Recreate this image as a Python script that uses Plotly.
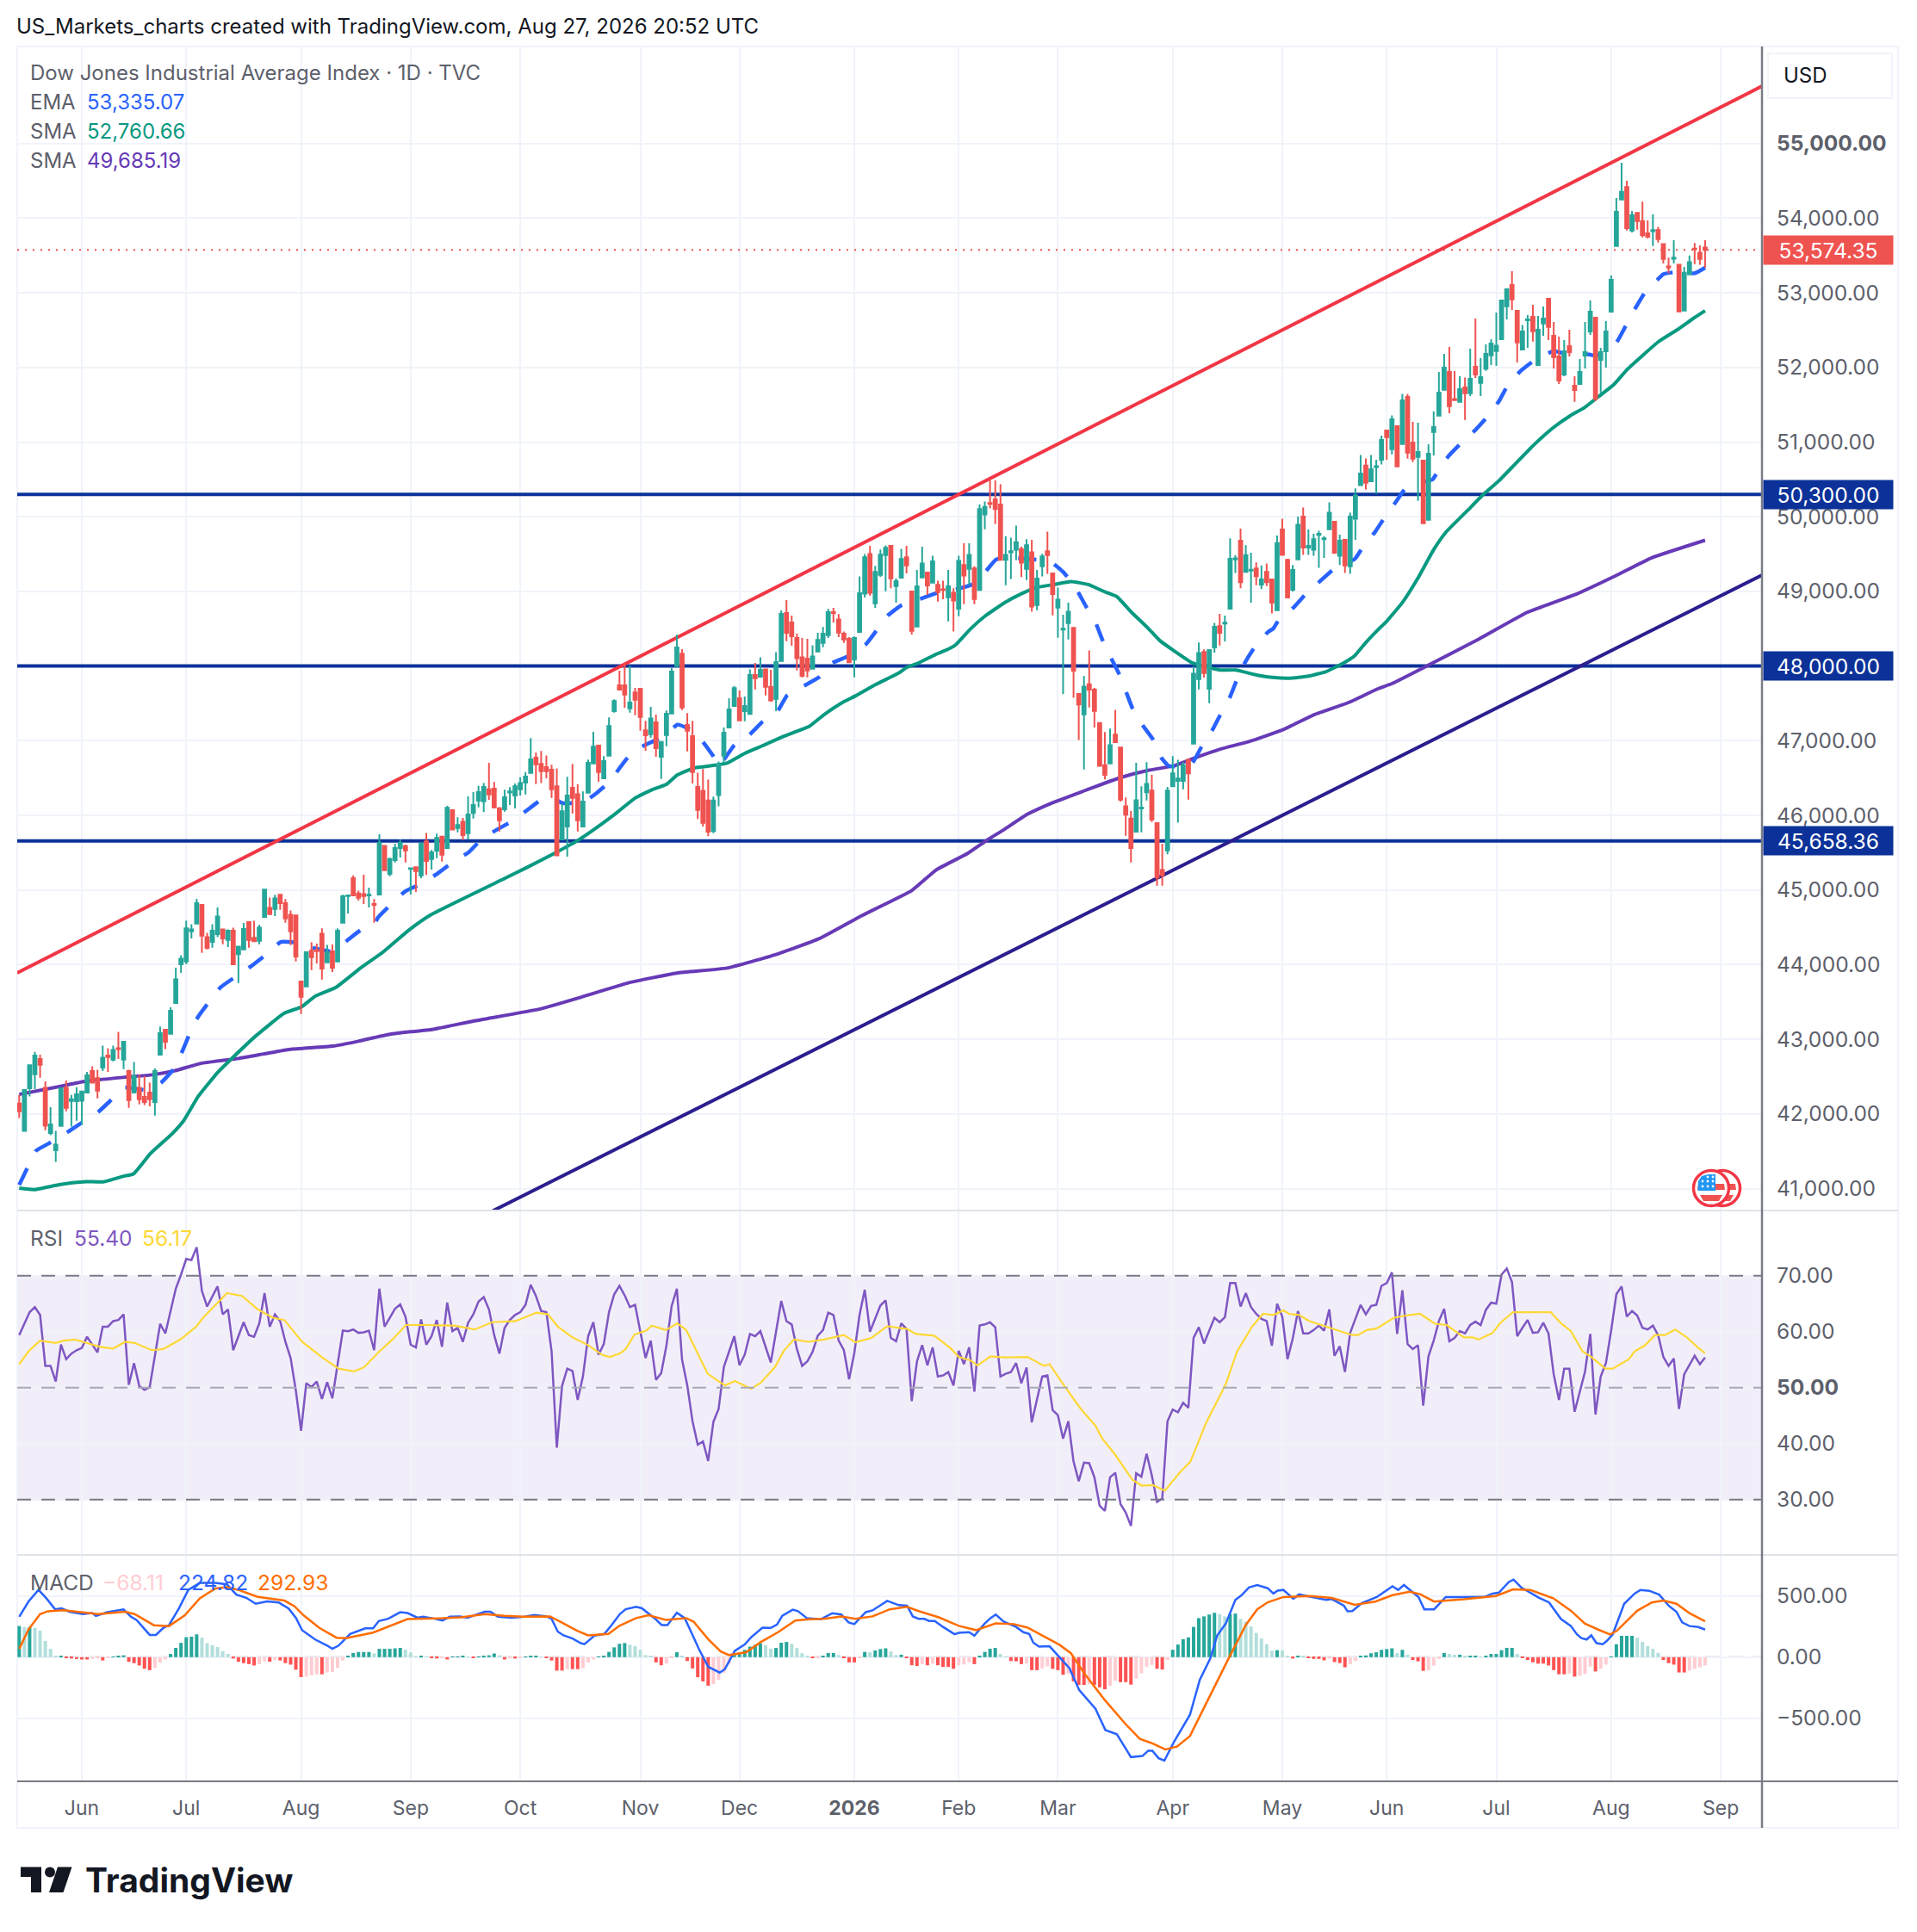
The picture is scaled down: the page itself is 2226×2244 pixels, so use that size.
import plotly.graph_objects as go

W, H = 2226, 2244

tick_idx = [12, 32, 54, 75, 96, 119, 138, 160, 180, 199, 221, 242, 262, 283, 305, 326]
tick_txt = ["Jun", "Jul", "Aug", "Sep", "Oct", "Nov", "Dec", "<b>2026</b>", "Feb", "Mar", "Apr", "May", "Jun", "Jul", "Aug", "Sep"]

opens = [
42140,41774,42343,42531,42735,42351,41743,41512,41839,42351,
42174,42170,42178,42285,42574,42478,42620,42781,42727,42881,
42727,42574,42285,42351,42228,42285,42158,42793,43127,43074,
43485,44004,44042,44446,44550,44800,44369,44304,44408,44473,
44331,44454,44139,44204,44569,44358,44319,44638,44761,44746,
44935,44823,44669,44658,43773,43708,44185,44196,44415,44031,
44177,44042,44562,44919,45158,44954,44946,44927,44812,44938,
45592,45215,45400,45561,45588,45281,45304,45196,45650,45415,
45523,45715,45562,46069,45831,45915,45761,46031,46196,46188,
46350,46357,46096,46081,46307,46265,46350,46438,46569,46773,
46688,46646,46611,46388,45677,45850,46369,46284,45850,46304,
46696,46934,46496,46800,47396,47742,47742,47434,47646,47696,
47138,47088,47246,46784,47076,47365,47999,48165,47211,47061,
46380,46330,46200,45790,46270,46800,47176,47464,47568,47395,
47357,47879,47856,47956,47722,47560,48068,48710,48583,48375,
48118,48099,47964,48195,48310,48414,48722,48625,48433,48364,
48087,48456,48971,49502,48841,49221,49487,49610,49071,49183,
49456,48998,48529,49187,49252,49118,49087,49029,48921,48983,
48768,49355,49302,49307,49019,50031,50185,50233,50164,49424,
49525,49557,49566,49302,49525,48817,49335,49537,49242,48784,
48489,48574,48513,47627,47352,47757,47684,47238,46672,46696,
47081,46907,46122,45956,45782,46093,46308,46332,45895,45268,
45531,46389,46461,46461,46745,46959,47825,48190,47696,48250,
48534,48570,48768,49428,49679,49262,49278,49307,49092,49262,
49161,48748,49829,49424,49023,49428,50003,49586,49557,49756,
49699,49833,49934,49477,49691,49335,49974,50424,50686,50474,
50667,50763,51155,50905,51213,50974,51605,50994,50801,50751,
49959,51136,51355,51701,51939,51578,51540,51732,51655,52009,
51793,51982,52162,52220,52378,52820,53104,52758,52239,52631,
52678,52032,52589,52920,52424,52147,51905,52285,51755,51778,
52159,52481,52666,52101,52216,52747,53627,54250,54416,53835,
54070,53962,53797,53827,53839,53654,53354,53458,53377,52762,
53247,53593,53539,53608]
highs = [
42255,42331,42658,42831,42793,42435,42089,41774,42343,42447,
42255,42358,42310,42562,42639,42593,42916,42881,42916,43100,
42966,42593,42697,42524,42505,42420,42608,43170,43127,43427,
43958,44127,44589,44542,44881,44800,44427,44542,44765,44473,
44473,44496,44254,44558,44569,44588,44531,45004,44900,44935,
44935,44877,44727,44658,43773,44177,44300,44281,44485,44265,
44269,44485,44935,44935,45196,44992,45204,45031,44877,45746,
45592,45434,45619,45677,45607,45292,45304,45619,45765,45535,
45754,45715,46127,46069,45973,45965,46254,46311,46396,46434,
46703,46446,46111,46342,46377,46427,46511,46580,47034,46842,
46861,46803,46677,46630,46157,46515,46688,46415,46319,46746,
47119,46934,46792,47311,47553,47938,48034,48003,47707,47696,
47265,47453,47350,46992,47403,47972,48418,48226,47369,47265,
46570,46620,46480,46250,46720,47176,47568,47733,47672,47591,
47956,48041,48118,47956,47949,48187,48745,48883,48675,48437,
48375,48364,48279,48445,48522,48764,48779,48695,48464,48387,
48395,49202,49502,49610,49341,49560,49617,49610,49175,49571,
49610,49002,49287,49598,49252,49479,49144,49144,49287,49041,
49477,49646,49646,49335,50164,50205,50508,50488,50436,49740,
49719,49881,49598,49699,49691,49286,49505,49800,49242,49052,
48687,48849,48513,47627,47866,48210,47708,47238,47117,47162,
47412,46907,46239,46057,46704,46389,46712,46542,45895,45620,
46381,46793,46745,46712,46745,47999,48315,48222,48214,48578,
48700,48675,49711,49485,49841,49618,49517,49387,49347,49375,
49161,49748,49974,49436,49355,50003,50124,49829,49772,49812,
49740,50193,49934,49760,49691,50055,50379,50828,50782,50828,
50763,51086,51155,51359,51213,51647,51647,51270,51259,50759,
50970,51413,51939,52182,52274,51951,51882,51866,52251,52655,
52124,52309,52378,52735,52897,53062,53289,52758,52570,52701,
52839,52689,52816,52920,52608,52412,52366,52505,51882,52112,
52608,52897,52666,52262,52620,53231,54269,54742,54500,54096,
54077,54220,53970,54050,53885,53654,53470,53704,53377,53347,
53500,53666,53635,53704]
lows = [
41947,41774,42235,42331,42485,41782,41716,41359,41839,42035,
41832,41909,41851,42285,42420,42208,42574,42562,42704,42735,
42601,42082,42285,42128,42120,42101,41978,42793,42870,43074,
43485,43889,44004,44350,44550,44158,44204,44227,44369,44273,
44235,43993,43754,44196,44227,44312,44273,44631,44677,44650,
44735,44561,44262,44042,43339,43708,43927,44016,43800,44031,
43900,44042,44562,44685,44919,44858,44811,44765,44562,44938,
45265,45184,45369,45434,45369,44938,44973,45158,45204,45273,
45427,45381,45562,45804,45773,45669,45677,45958,46108,46042,
46207,46092,45785,46050,46138,46092,46265,46280,46569,46419,
46434,46496,46234,45465,45677,45446,46023,45785,45850,46304,
46684,46450,46484,46800,47376,47684,47442,47376,47342,47134,
46865,47042,46784,46488,46926,47365,47999,47411,46857,46427,
45950,45850,45720,45760,46120,46700,47176,47464,47272,47260,
47349,47687,47856,47606,47522,47395,48068,48333,48272,47941,
47849,47849,47964,48195,48252,48375,48583,48387,48310,48041,
47849,48445,48918,48941,48779,49194,49002,49041,48848,49183,
49241,48422,48529,49187,48952,49118,48864,48895,48599,48464,
48667,48829,49084,48829,49019,49833,50112,49901,49424,49084,
49165,49416,49193,49153,48728,48748,49201,49234,48679,48380,
47623,48355,47574,47008,46615,47445,47178,46664,46482,46696,
46980,46186,45725,45369,45782,45773,46198,45911,45057,45057,
45478,46389,45903,46348,46211,46959,47688,47846,47502,48181,
48275,48331,48768,49246,49043,49262,48849,49084,49031,49072,
48704,48748,49489,48906,48999,49428,49489,49489,49477,49315,
49448,49833,49505,49355,49246,49234,49691,50424,50367,50474,
50309,50701,50763,50836,50674,50974,50778,50732,50213,49913,
49959,50820,51355,51701,51386,51551,51540,51297,51616,51859,
51616,51955,52032,52020,52378,52643,52770,52066,52239,52262,
52347,52032,52424,52366,51985,51778,51882,52147,51540,51778,
51985,52435,51547,51651,51997,52747,53627,54250,53835,53808,
53846,53743,53731,53627,53673,53393,53262,53393,52751,52762,
53239,53385,53377,53335]
closes = [
42035,42320,42651,42781,42658,41843,41859,41589,42343,42082,
42197,42262,42301,42516,42420,42312,42754,42762,42858,42870,
42966,42185,42504,42197,42158,42197,42574,43081,42966,43381,
43804,44081,44485,44473,44823,44389,44223,44454,44646,44350,
44454,44004,44242,44477,44331,44312,44496,45004,44677,44888,
44823,44619,44446,44108,43570,44166,44100,44181,43946,44166,
43958,44454,44915,44927,44927,44896,44919,44935,44800,45630,
45265,45415,45561,45630,45531,45292,45254,45619,45388,45504,
45696,45473,46100,45811,45869,45735,46011,46138,46311,46381,
46280,46108,45935,46242,46319,46388,46434,46519,46750,46684,
46592,46592,46350,45465,46054,46265,46234,45935,46184,46703,
46919,46580,46727,47196,47530,47684,47619,47511,47549,47319,
47073,47299,46900,46984,47361,47926,48249,47446,47134,46580,
46073,45900,45780,46200,46680,47107,47418,47703,47272,47464,
47879,47837,47949,47722,47541,48052,48698,48445,48399,48106,
47868,47941,48129,48349,48433,48722,48710,48449,48356,48049,
48375,48975,49456,48983,49260,49491,49583,49175,49137,49433,
49348,48472,49068,49375,49079,49402,48991,49018,49068,48879,
49408,49213,49489,48898,50104,50132,50173,50104,49424,49489,
49537,49659,49384,49618,48797,49173,49468,49485,48963,48890,
48501,48728,47939,47485,47724,47684,47400,46664,46542,46939,
46980,46211,46008,45563,46202,46105,46421,45944,45166,45199,
46332,46563,46494,46672,46563,47898,48173,47906,48214,48525,
48445,48582,49436,49444,49124,49485,49290,49205,49161,49124,
48849,49647,49489,48918,49286,49893,49586,49610,49699,49772,
49711,50055,49517,49679,49347,50003,50286,50578,50455,50636,
50678,51028,51067,51305,50674,51559,50859,50778,50867,49913,
50843,51201,51663,51997,51482,51563,51709,51655,51847,51905,
51870,52182,52320,52293,52897,53047,52912,52335,52481,52643,
52485,52505,52655,52543,52139,51824,52216,52205,51697,51939,
52205,52747,51582,52205,52481,53174,54085,54354,53866,54039,
53962,53770,53750,53839,53720,53454,53339,53470,52751,53270,
53412,53585,53454,53574.35]

ema_idx = [0,1.6,3.2,6.3,9,12.3,15.1,17.9,20.2,24.6,27.2,29.6,31.2,32.7,34.2,36.5,38.6,41.7,44.4,47.5,50.1,53.5,56.8,60.1,63.1,66,68.1,68.8,71.4,74,77.2,78.8,80.2,83.2,86.1,88.7,91.6,95,97.8,100.8,102.2,104,108,110.5,113.2,115.2,117.6,120.6,123.9,126.1,129.4,130.8,133,134,137,139.9,142.4,145.4,147.1,150.3,153.4,155.8,158.6,162.2,164.2,166.4,169.1,172.9,175.6,179.5,182.5,185,187.2,191,197.6,200.1,202.6,204.3,206.2,207.5,209.1,210.7,212,213.3,215.2,217.3,218.8,220.2,222.4,224.6,226.5,228.5,230.1,231.9,233.3,234.8,236.7,239.2,240.3,241.4,244.2,246.6,249.3,251.8,255.9,257.4,259.8,261.7,263.9,265.8,270.8,271.7,273.8,276.2,279,281.3,283.5,285.2,287.7,290.5,294,296.4,300.8,302.1,306,307.8,309.6,311.5,314,315,317.2,321,323]
ema_val = [41050,41282,41505,41628,41743,41897,42024,42205,42351,42320,42420,42601,42831,43081,43293,43512,43697,43850,43977,44146,44304,44292,44216,44177,44339,44492,44550,44638,44819,44985,45088,45160,45223,45381,45504,45688,45811,45946,46096,46246,46234,46165,46177,46292,46457,46650,46857,46965,47073,47215,47119,47003,46790,46660,46940,47080,47253,47407,47606,47733,47856,48041,48125,48291,48472,48675,48818,48906,48975,49030,49092,49254,49428,49448,49396,49254,49023,48809,48586,48355,48121,47898,47667,47433,47210,47008,46773,46664,46652,46684,46915,47129,47344,47574,47817,48040,48254,48453,48505,48627,48788,48971,49141,49294,49436,49590,49800,50001,50213,50397,50501,50597,50809,50982,51163,51340,51547,51762,51955,52105,52220,52182,52174,52155,52335,52558,52789,53008,53185,53250,53277,53262,53335.07]

sma50_idx = [0,2.9,7.9,12.8,16.1,20,21.9,25.2,29.3,31.5,34.3,38.1,40.9,45.3,50.8,54.1,56.8,60.7,65.6,69.5,74.7,78.8,93.1,97,102.9,106.9,111.3,114.6,117.9,121.2,124,126.1,129.4,130.9,135.6,139,142,146.5,151.4,154.2,158,160.2,164.1,168.5,170.1,172.3,175.6,177.8,179.5,182.2,185,188.8,192.1,194.9,198.2,201.5,204.8,208.1,210.3,213,216.3,218.5,221.3,224.6,227.3,230.1,233.1,237.2,240.5,243.3,247.1,250.4,253.7,255.9,258.1,260.3,262,265,268,271,273.3,277.4,280.4,283.5,286.7,290.3,293.9,297.2,299.9,302.7,305.5,308.2,314.1,318,320.7,323]
sma50_val = [41005,40986,41055,41093,41090,41166,41197,41474,41735,41909,42235,42562,42754,43043,43350,43435,43581,43697,43966,44158,44465,44665,45158,45292,45504,45658,45869,46042,46227,46342,46415,46542,46638,46650,46700,46830,46920,47060,47195,47349,47522,47599,47753,47906,47983,48041,48156,48220,48290,48493,48667,48849,48971,49052,49092,49133,49092,48991,48930,48728,48505,48343,48202,48048,47991,47947,47947,47878,47845,47837,47866,47926,48040,48141,48323,48485,48600,48850,49180,49560,49790,50078,50290,50482,50713,50970,51193,51355,51463,51616,51770,51982,52347,52520,52655,52760.66]

sma200_idx = [0,7.9,12.8,20.5,25.5,29.9,34.8,42,46.9,51.9,60.1,65,70.6,75,78.8,87,100,107.3,116.7,126,135.6,145,153.3,161.6,171,175.7,181.7,185.5,188.8,193.2,197.6,203.7,210.8,216.3,221.3,225.1,230.1,235.6,242.2,248.2,254.8,260.3,263,270,279.6,289,298.5,305.6,312.7,323]
sma200_val = [42262,42370,42439,42493,42524,42581,42677,42743,42804,42866,42908,42974,43062,43101,43127,43244,43409,43557,43755,43887,43954,44135,44349,44663,44993,45270,45490,45672,45814,46016,46158,46320,46502,46603,46664,46765,46886,46988,47149,47352,47514,47696,47765,48012,48359,48722,48969,49200,49448,49685.19]

channel_top_idx = [-0.38, 333.9]
channel_top_val = [43889, 55769]
channel_bottom_idx = [90.7, 333.9]
channel_bottom_val = [40700, 49218]
level_values = [50300, 48000, 45658.36]
level_texts = ["50,300.00", "48,000.00", "45,658.36"]
last_price = 53574.35

rsi = [
59.4,61.5,63.5,64.4,63.0,53.9,53.9,51.1,57.7,55.1,56.1,56.7,57.1,59.1,57.6,56.3,60.9,60.9,61.9,62.1,
63.1,50.5,54.4,50.3,49.6,50.1,55.7,61.4,59.7,63.7,67.7,70.2,73.0,72.8,75.1,67.3,64.5,66.3,68.1,63.1,
64.0,56.7,59.2,61.7,59.4,59.1,61.5,66.9,60.9,63.1,61.9,58.2,55.3,49.5,42.3,50.8,50.1,51.1,48.0,51.0,
48.1,54.4,60.2,60.1,60.4,59.8,59.9,60.2,56.7,67.7,60.9,62.5,64.1,64.9,62.7,57.7,57.2,62.2,57.7,59.2,
62.1,57.3,65.2,60.1,60.7,58.2,61.6,63.1,65.4,66.2,64.0,59.4,56.1,60.7,62.1,63.0,63.5,64.8,68.4,66.4,
63.7,63.5,56.5,39.3,50.3,53.4,53.0,47.8,52.0,59.2,61.7,55.9,57.8,63.5,66.7,68.2,66.5,64.4,64.8,60.0,
55.3,58.4,51.4,52.6,57.5,64.6,67.7,55.0,50.4,44.0,39.8,40.4,36.9,43.9,46.2,53.7,56.6,59.2,54.0,55.9,
59.6,59.2,60.1,57.2,54.5,60.0,65.5,61.9,61.3,56.9,53.9,54.7,56.4,59.3,60.3,63.4,63.0,58.4,56.7,51.5,
56.2,63.0,67.5,60.0,62.3,64.7,65.6,58.9,58.3,61.5,60.5,47.6,54.7,57.6,54.0,57.2,52.0,52.2,52.8,50.4,
56.6,54.2,57.2,49.3,61.1,61.3,61.7,60.8,52.0,52.5,52.8,54.4,50.8,53.6,43.8,48.1,52.0,52.2,46.0,45.1,
40.9,44.0,36.8,33.3,36.6,36.5,34.0,28.9,28.0,34.0,34.8,29.2,27.7,25.3,34.7,34.1,38.2,34.3,29.6,30.2,
44.0,46.1,45.6,47.3,46.4,58.9,60.8,57.9,60.3,62.5,61.7,62.6,68.7,68.7,64.5,66.9,64.4,63.2,62.3,61.9,
57.5,65.0,62.7,55.1,58.8,63.7,59.7,59.7,60.3,61.1,60.2,64.0,55.7,57.4,52.8,59.8,62.3,64.8,63.1,64.6,
64.8,68.2,68.7,70.6,59.6,67.4,57.8,56.9,57.6,46.8,55.6,58.4,61.9,64.1,58.3,58.9,60.1,59.7,61.2,61.8,
61.2,63.9,65.2,65.0,70.2,71.3,68.9,59.2,60.7,62.1,59.8,59.9,61.6,59.7,52.4,47.8,53.4,53.4,45.7,49.5,
52.9,59.6,45.2,52.0,54.4,60.2,66.7,68.1,62.7,63.7,62.9,60.7,60.4,61.1,59.4,55.5,53.9,55.2,46.2,52.4,
54.0,55.7,54.2,55.40]

rsi_ma_idx = [0,1.8,4,7,8.5,10.7,12.9,15.5,18,20.3,22.1,25.4,27.6,31,33.9,35.4,36.8,39.8,42.7,45.7,48.6,50.8,54.2,58.2,61.2,64.1,66,68.9,71.5,74.1,77.4,81.1,83.3,87.3,90.6,95.1,99.1,101.3,103.2,106,109,111.8,113.2,115.1,116.2,117.9,120.1,121.2,123.9,126.1,127.8,131.9,135.2,137.1,140.2,142.1,144.8,146.5,148.4,151.2,154.2,158,160.2,163.3,166.3,170.1,171.8,175.3,178.4,180,182.2,183.6,186.1,188.8,193.2,196.3,197.4,200.4,203.4,206.2,207.5,210,213.3,215.1,217.2,219.5,222.4,224.4,227.3,231.2,233.3,236.1,238.3,240.3,242.2,243.3,245.2,247.2,251.5,255.4,256.5,258.2,260.1,263.4,266.4,268.4,271.3,273.5,276.8,278.5,279.6,282.3,283.7,286.2,289.5,293.4,295.3,297.3,299.5,301.2,303.9,305.3,308.4,309.5,311.4,313.4,315.3,317.3,319.5,321.7,323]
rsi_ma_val = [54.2,56.5,58.4,58.0,58.4,58.6,58.0,57.3,57.0,58.2,58.0,56.7,56.9,58.7,60.9,62.7,64.0,66.9,66.4,64.0,62.5,62.1,58.2,55.3,53.4,52.9,53.6,56.4,58.6,61.2,61.2,61.2,61.1,60.4,61.7,61.9,63.4,63.1,60.9,59.0,57.6,55.8,55.5,56.1,56.9,59.5,60.2,61.1,60.3,61.5,60.3,52.5,50.4,51.2,49.8,50.9,53.7,56.6,58.6,58.2,58.6,59.4,58.1,58.9,61.0,60.5,59.6,59.3,57.1,55.5,54.9,54.0,55.6,55.4,55.5,53.9,54.2,50.1,46.2,43.2,40.9,38.0,33.5,32.5,32.6,31.6,34.9,36.8,43.5,50.7,56.4,60.8,63.2,63.0,63.8,63.2,63.0,61.9,60.6,59.4,59.4,60.3,60.6,62.5,63.0,63.2,61.4,61.2,59.0,59.0,58.6,59.8,61.5,63.5,63.5,63.5,61.6,60.1,56.5,55.5,53.4,53.4,55.1,56.5,57.5,59.4,59.4,60.4,59.0,57.1,56.17]

hist = [
254,246,246,239,216,133,68,8,11,-8,-11,-15,-19,-19,-15,-11,-27,-8,4,8,
15,-38,-49,-68,-95,-106,-87,-45,-19,26,76,117,163,167,186,159,114,98,83,49,
26,-11,-38,-49,-57,-68,-57,-34,-38,-23,-27,-49,-61,-102,-163,-159,-148,-140,-140,-125,
-121,-87,-27,11,34,42,42,42,30,68,68,68,72,76,61,38,2,8,4,-8,
-11,-8,-19,4,4,8,4,-4,4,8,15,30,15,-19,-10,-11,-8,4,8,8,
4,-8,-27,-110,-110,-98,-98,-98,-91,-45,-19,4,9,43,80,109,115,101,89,60,
17,6,-43,-66,-52,-6,40,9,-32,-92,-164,-198,-233,-221,-184,-126,-55,26,26,60,
86,101,112,98,69,75,118,124,109,75,32,9,-9,-3,9,34,34,17,-9,-43,
-43,-6,43,40,55,66,72,46,17,20,-3,-66,-72,-57,-66,-52,-66,-80,-80,-95,
-66,-60,-40,-57,9,43,69,75,26,3,-32,-34,-57,-52,-106,-106,-92,-75,-95,-106,
-144,-135,-198,-227,-227,-221,-227,-247,-262,-233,-193,-204,-204,-224,-175,-132,-78,-63,-95,-101,
-23,60,103,147,161,247,319,333,348,362,351,333,353,356,313,290,250,198,152,106,
52,57,55,6,-11,9,6,-6,-14,-14,-26,-11,-40,-49,-83,-57,-32,9,14,32,
40,60,66,72,34,60,20,-23,-34,-112,-106,-69,-14,34,26,20,20,9,11,11,
4,8,26,26,57,76,76,26,-4,-23,-42,-53,-53,-68,-106,-140,-140,-133,-159,-152,
-136,-76,-117,-95,-61,4,106,174,174,174,159,125,91,68,34,-23,-49,-61,-125,-125,
-110,-95,-83,-68.11]

macd_idx = [0,1.8,3.7,5.2,6.9,8.1,9.6,12.2,14,14.7,16.9,20,21.4,22.5,25,26.2,27.6,28.7,30.6,32.4,34.6,37.6,39.8,41.6,43.5,45.3,47.5,49.7,51.6,53,54.2,56.7,59,60,61.2,63.4,66.3,67.8,68.9,70.7,73,74.4,76.3,77.4,79.6,81.1,82.5,84.4,85.9,89.2,90.3,91.7,94.3,96.9,98.7,101,102,103.2,104.3,106,107.6,108.3,110.2,112.1,113.5,115.1,116.2,118.2,119.3,120.6,121.7,123.1,124.2,126,127.5,128.6,130.3,132,133.3,134.2,135.2,137.1,139,140.2,142.4,144,145.2,146.2,148.2,149.2,150.9,153.6,155.8,157.5,158.9,160,162.2,163.5,166.3,168.5,170.1,171.2,172.3,173.4,174.3,175.4,177,179.2,180,182,183,185,186.1,187.1,188.6,191,192.4,193.5,194.3,195.4,197.4,199.3,201.2,203.1,206.2,208.1,210.3,213,215.2,216.3,217.1,218.3,219.4,221.3,224.3,226.2,228.2,229.5,231.2,233,234.2,235.6,237.2,239.2,240.3,241.1,242.2,244.1,245.2,250.4,251.5,253.8,254.5,255.4,257.3,260.1,263.1,264.2,265.3,268.1,269.2,271.1,273.3,276,280.7,282.3,283.5,285.4,286.3,287.8,291.2,293.1,295.4,297.3,298.4,299.3,300.3,301.2,302.2,303.4,304.2,305.3,307.5,309.5,310.6,312.3,314.2,316.1,317.5,318.6,320,321.7,323]
macd_val = [330,455,549,481,390,398,371,352,360,337,367,390,330,303,182,182,239,261,398,549,606,606,595,511,485,436,455,447,398,322,220,144,95,68,95,189,235,235,295,314,367,360,322,330,314,299,330,333,322,371,371,330,322,330,345,333,314,208,178,152,114,106,175,190,262,353,391,411,399,353,319,262,262,362,319,218,60,-78,-106,-126,-98,52,103,161,241,239,267,339,388,376,319,310,359,348,284,270,368,382,460,425,420,333,313,313,296,296,247,187,198,204,175,276,319,348,290,247,204,190,118,86,89,3,-89,-270,-422,-595,-629,-816,-807,-764,-764,-825,-845,-687,-471,-184,-11,175,276,468,506,569,589,563,520,543,549,477,512,468,474,420,374,376,443,491,578,549,589,491,391,391,491,491,492,519,527,614,633,568,485,447,311,254,189,155,144,178,114,106,133,186,436,519,549,542,511,417,371,284,254,246,224.82]

signal_idx = [0,1.8,4,5.5,8.5,12.2,15.1,20.3,22.1,25.8,28.7,31.7,34.6,37.6,39.8,42,45.7,50.8,52.7,54.5,57.5,60.8,62.6,67.8,71.5,74.4,81.1,84.7,89.2,92.9,96.5,101.7,103.9,106.9,109,112.9,115,118.2,120.6,123.9,127.8,129.2,132,134.4,136,139.3,142.1,145.4,148.7,151.4,154.2,157.5,160.2,163.5,166.8,170.1,172.3,176.2,180,183.3,187.1,190.5,193.2,197,199.3,201.5,204.2,208.1,211.9,214.7,216.9,219.6,221.8,224.3,227.3,231.7,235,237.2,239.2,242.2,247.2,251.5,255.9,259.8,263.1,266.4,268.4,271.1,273.5,276.8,282.9,286.2,289.5,293.9,297.3,300,302.8,304.8,306.1,310,312.8,315,317.5,320,323]
signal_val = [68,227,352,375,383,364,352,371,352,261,254,341,481,561,572,549,492,462,417,341,239,159,155,201,265,311,318,326,352,337,330,333,284,216,178,190,256,319,342,305,319,290,147,46,17,40,124,204,299,310,313,333,313,333,391,411,376,325,256,221,276,270,241,152,101,32,-141,-356,-543,-667,-701,-753,-730,-644,-385,-11,262,391,448,491,500,483,428,454,506,535,514,454,463,473,500,553,549,481,379,273,220,186,216,379,447,462,436,360,292.93]

price_ticks = [41000 + 1000 * k for k in range(15)]
rsi_ticks = [30, 40, 50, 60, 70]
macd_ticks = [-500, 0, 500]

UP, DOWN = "#26a69a", "#ef5350"
GRID = "#f0f3fa"
AXIS = "#787b86"
TEXT = "#5d606b"
NAVY = "#0c3299"
FONT = "Inter"
FS = 24
AXIS_FS = 24.5
TIME_FS = 23

def px(x):
    return x / W

def py(y):
    return 1 - y / H

X_DOM = [px(20), px(2046)]
X_RANGE = [-0.38, 333.9]
PRICE_RANGE = [40706, 56300]
RSI_RANGE = [20.12, 81.66]
MACD_RANGE = [-1014, 835]

n = len(closes)
bars = list(range(n))

fig = go.Figure()

# indicator lines of the price pane sit under the candles
for val, txt in zip(level_values, level_texts):
    fig.add_trace(go.Scatter(x=X_RANGE, y=[val, val], mode="lines", line=dict(color=NAVY, width=4), xaxis="x", yaxis="y"))
fig.add_trace(go.Scatter(x=X_RANGE, y=[last_price, last_price], mode="lines", line=dict(color=DOWN, width=2, dash="2px,7px"), xaxis="x", yaxis="y"))
fig.add_trace(go.Scatter(x=channel_top_idx, y=channel_top_val, mode="lines", line=dict(color="#f23645", width=4), xaxis="x", yaxis="y"))
fig.add_trace(go.Scatter(x=channel_bottom_idx, y=channel_bottom_val, mode="lines", line=dict(color="#2a1e8f", width=4), xaxis="x", yaxis="y"))
fig.add_trace(go.Scatter(x=sma200_idx, y=sma200_val, mode="lines", line=dict(color="#673ab7", width=4, shape="spline", smoothing=0.4), xaxis="x", yaxis="y"))
fig.add_trace(go.Scatter(x=sma50_idx, y=sma50_val, mode="lines", line=dict(color="#089981", width=4, shape="spline", smoothing=0.4), xaxis="x", yaxis="y"))
fig.add_trace(go.Scatter(x=ema_idx, y=ema_val, mode="lines", line=dict(color="#2962ff", width=4.5, dash="21px,22px", shape="spline", smoothing=0.4), xaxis="x", yaxis="y"))

fig.add_trace(go.Candlestick(
    x=bars, open=opens, high=highs, low=lows, close=closes,
    increasing=dict(line=dict(color=UP, width=2), fillcolor=UP),
    decreasing=dict(line=dict(color=DOWN, width=2), fillcolor=DOWN),
    whiskerwidth=0, xaxis="x", yaxis="y4"))

fig.add_trace(go.Scatter(x=bars, y=rsi, mode="lines", line=dict(color="#7e57c2", width=2.5), xaxis="x2", yaxis="y2"))
fig.add_trace(go.Scatter(x=rsi_ma_idx, y=rsi_ma_val, mode="lines", line=dict(color="#fdd835", width=2.2), xaxis="x2", yaxis="y2"))

hist_colors = []
for i, v in enumerate(hist):
    prev = hist[i - 1] if i else v - 1
    if v >= 0:
        hist_colors.append("#26a69a" if v >= prev else "#b2dfdb")
    else:
        hist_colors.append("#ff5252" if v <= prev else "#ffcdd2")

fig.add_trace(go.Bar(x=bars, y=hist, width=0.66, marker=dict(color=hist_colors, line=dict(width=0)), xaxis="x3", yaxis="y3"))
fig.add_trace(go.Scatter(x=macd_idx, y=macd_val, mode="lines", line=dict(color="#2962ff", width=2.5), xaxis="x3", yaxis="y3"))
fig.add_trace(go.Scatter(x=signal_idx, y=signal_val, mode="lines", line=dict(color="#ff6d00", width=2.5), xaxis="x3", yaxis="y3"))

def y_axis(rng, top, bottom, ticks, labels, anchor):
    return dict(domain=[py(bottom), py(top)], range=rng, side="right", anchor=anchor,
                tickvals=ticks, ticktext=labels, ticks="", ticklabelstandoff=16,
                showgrid=True, gridcolor=GRID, gridwidth=2, zeroline=False, showline=False,
                tickfont=dict(family=FONT, size=AXIS_FS, color=TEXT), fixedrange=True)

def x_axis(anchor, labels=False):
    return dict(domain=X_DOM, range=X_RANGE, anchor=anchor, tickvals=tick_idx,
                ticktext=tick_txt if labels else None, showticklabels=labels, ticks="",
                ticklabelstandoff=15, showgrid=True, gridcolor=GRID, gridwidth=2, zeroline=False,
                showline=False, tickfont=dict(family=FONT, size=TIME_FS, color=TEXT),
                rangeslider=dict(visible=False), fixedrange=True)

def fmt(v, bold=()):
    s = f"{v:,.2f}".replace("-", "\u2212")
    return f"<b>{s}</b>" if v in bold else s

shapes = []

def line_px(x0, y0, x1, y1, color, width=2):
    shapes.append(dict(type="line", xref="paper", yref="paper", x0=px(x0), y0=py(y0), x1=px(x1), y1=py(y1),
                       line=dict(color=color, width=width), layer="above"))

# RSI band and reference levels
shapes.append(dict(type="rect", xref="x2 domain", yref="y2", x0=0, x1=1, y0=30, y1=70,
                   fillcolor="rgba(126,87,194,0.1)", line=dict(width=0), layer="below"))
for lvl, col in ((70, AXIS), (50, "#a8a8b4"), (30, AXIS)):
    shapes.append(dict(type="line", xref="x2 domain", yref="y2", x0=0, x1=1, y0=lvl, y1=lvl,
                       line=dict(color=col, width=2, dash="16px,12px"), layer="above"))
shapes.append(dict(type="line", xref="x3 domain", yref="y3", x0=0, x1=1, y0=0, y1=0,
                   line=dict(color="#a8a8b4", width=2, dash="16px,12px"), layer="below"))

# frame
shapes.append(dict(type="rect", xref="paper", yref="paper", x0=px(20), y0=py(2123), x1=px(2204), y1=py(54),
                   line=dict(color=GRID, width=2), layer="below"))
line_px(20, 1406, 2204, 1406, "#e0e3eb")
line_px(20, 1806, 2204, 1806, "#e0e3eb")
line_px(20, 2069, 2204, 2069, AXIS)
line_px(2046, 54, 2046, 2123, AXIS, 2.5)

def path_px(points):
    return "M " + " L ".join(f"{px(a):.5f},{py(b):.5f}" for a, b in points) + " Z"

def add_path(points, fill):
    shapes.append(dict(type="path", xref="paper", yref="paper", path=path_px(points), fillcolor=fill,
                       line=dict(width=0), layer="above"))

def add_circle(cx, cy, r, fill, line=None, lw=0):
    shapes.append(dict(type="circle", xref="paper", yref="paper", x0=px(cx - r), x1=px(cx + r),
                       y0=py(cy + r), y1=py(cy - r), fillcolor=fill,
                       line=dict(color=line or fill, width=lw), layer="above"))

# USD box
shapes.append(dict(type="rect", xref="paper", yref="paper", x0=px(2053), y0=py(114), x1=px(2197), y1=py(62),
                   fillcolor="white", line=dict(color=GRID, width=2), layer="above"))

# logo
add_path([(24, 2168.5), (48, 2168.5), (48, 2198), (36, 2198), (36, 2180), (24, 2180)], "#131722")
add_circle(58, 2174.5, 6, "#131722")
add_path([(67, 2168.5), (83.5, 2168.5), (73.5, 2198), (57, 2198)], "#131722")

# event flags
for cx in (2000, 1987):
    add_circle(cx, 1380, 20.5, "white", "#f23645", 3.5)
    add_path([(cx - 15, 1375), (cx + 15, 1375), (cx + 16, 1382), (cx - 16, 1382)], "#ef5350")
    add_path([(cx - 13, 1388), (cx + 13, 1388), (cx + 9, 1395), (cx - 9, 1395)], "#ef5350")
add_path([(1987 - 15, 1372), (1987 - 11, 1366), (1987 - 4, 1364), (1987 + 5, 1364), (1987 + 5, 1383), (1987 - 15.5, 1383)], "#2196f3")
for dx, dy in ((-10, 1372), (-4, 1372), (2, 1372), (-10, 1378), (-4, 1378), (2, 1378), (-4, 1367), (2, 1367)):
    add_circle(1987 + dx, dy, 1.4, "white")

annotations = []

def text_px(x, y, text, color=TEXT, size=FS, anchor="left"):
    annotations.append(dict(xref="paper", yref="paper", x=px(x - 3), y=py(y - 1), text=text, showarrow=False,
                            xanchor=anchor, yanchor="middle", font=dict(family=FONT, size=size, color=color)))

text_px(20, 32, "US_Markets_charts created with TradingView.com, Aug 27, 2026 20:52 UTC", "#131722")
text_px(36, 85, "Dow Jones Industrial Average Index \u00b7 1D \u00b7 TVC")
text_px(36, 119, "EMA")
text_px(102, 119, "53,335.07", "#2962ff")
text_px(36, 153, "SMA")
text_px(102, 153, "52,760.66", "#089981")
text_px(36, 187, "SMA")
text_px(102, 187, "49,685.19", "#673ab7")
text_px(36, 1439, "RSI", size=24.5)
text_px(87, 1439, "55.40", "#7e57c2", 24.5)
text_px(166, 1439, "56.17", "#fdd835", 24.5)
text_px(36, 1839, "MACD", size=24.5)
text_px(120, 1839, "\u221268.11", "#ffcdd2", 24.5)
text_px(208, 1839, "224.82", "#2962ff", 24.5)
text_px(300, 1839, "292.93", "#ff6d00", 24.5)
text_px(2072, 88, "USD", "#131722")
text_px(100, 2184, "<b>TradingView</b>", "#131722", 39)

def price_tag(val, label, bg):
    annotations.append(dict(xref="paper", yref="y", x=px(2047), y=val, text=label, showarrow=False,
                            xanchor="left", yanchor="middle", width=146, height=29, align="center",
                            bgcolor=bg, borderpad=2, font=dict(family=FONT, size=AXIS_FS, color="white")))

for val, txt in zip(level_values, level_texts):
    price_tag(val, txt, NAVY)
price_tag(last_price, "53,574.35", DOWN)

fig.update_layout(
    width=W, height=H, margin=dict(l=0, r=0, t=0, b=0), autosize=False,
    paper_bgcolor="white", plot_bgcolor="white", showlegend=False, hovermode=False,
    boxgap=0.38, boxgroupgap=0, barmode="overlay", bargap=0.3,
    xaxis=x_axis("y"), xaxis2=x_axis("y2"), xaxis3=x_axis("y3", True),
    yaxis=y_axis(PRICE_RANGE, 54, 1406, price_ticks, [fmt(v, (55000,)) for v in price_ticks], "x"),
    yaxis2=y_axis(RSI_RANGE, 1406, 1806, rsi_ticks, [fmt(v, (50,)) for v in rsi_ticks], "x2"),
    yaxis3=y_axis(MACD_RANGE, 1806, 2069, macd_ticks, [fmt(v) for v in macd_ticks], "x3"),
    yaxis4=dict(domain=[py(1406), py(54)], range=PRICE_RANGE, overlaying="y", side="right", anchor="x",
                visible=False, showgrid=False, fixedrange=True),
    shapes=shapes, annotations=annotations,
)

fig.write_html("out.html", config=dict(displayModeBar=False),
               post_script="document.body.style.margin='0';")
